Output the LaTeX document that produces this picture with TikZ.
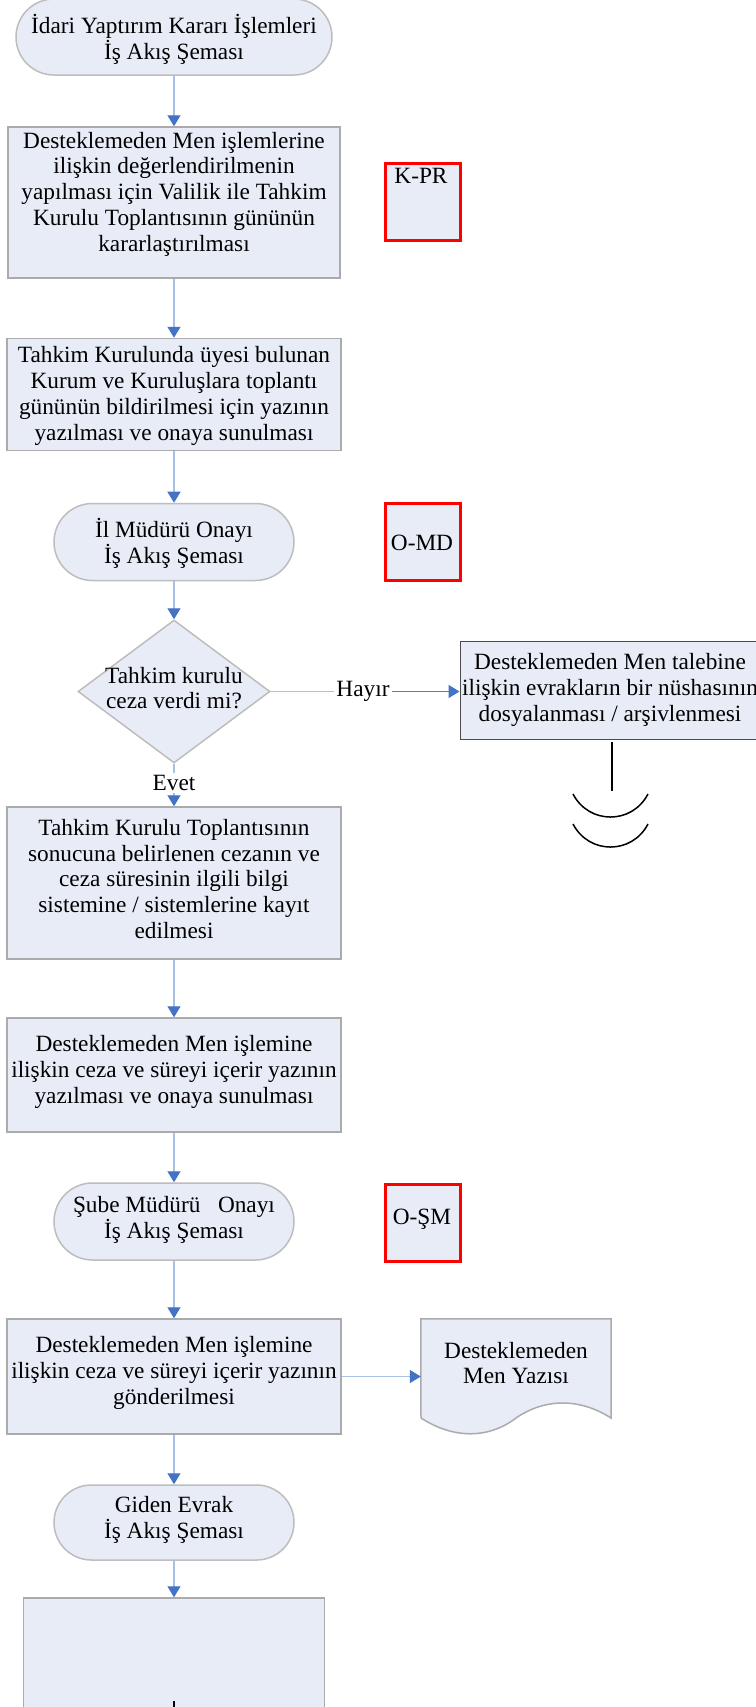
\documentclass[tikz,border=0pt]{standalone}
\usepackage{fontspec}
\setmainfont{Liberation Serif}
\usetikzlibrary{shapes.geometric,shapes.misc,arrows.meta}
\definecolor{boxfill}{HTML}{E8ECF7}
\definecolor{boxgray}{HTML}{ABABAB}
\definecolor{termgray}{HTML}{BDBDBD}
\definecolor{lineblue}{HTML}{A8BFE6}
\definecolor{arrowblue}{HTML}{4472C4}
\definecolor{darkblue}{HTML}{4F81BD}
\definecolor{codered}{HTML}{FF0000}
\tikzset{
  txt/.style={font=\fontsize{23.3bp}{25.8bp}\selectfont, align=center, inner sep=0pt, text=black},
  lbl/.style={font=\fontsize{23.3bp}{25.8bp}\selectfont, inner sep=2bp, text=black},
  procbox/.style={rectangle, draw=boxgray, line width=1.5bp, fill=boxfill, inner sep=0pt},
  term/.style={rounded rectangle, draw=termgray, line width=1.5bp, fill=boxfill, inner sep=0pt},
  codebox/.style={rectangle, draw=codered, line width=3bp, fill=boxfill, inner sep=0pt, minimum width=75bp, minimum height=77bp},
  decision/.style={diamond, draw=termgray, line width=1.5bp, fill=boxfill, inner sep=0pt},
  conn/.style={draw=lineblue, line width=1.3bp, -{Triangle[width=13bp,length=11bp,color=arrowblue]}},
  plainconn/.style={draw=lineblue, line width=1.3bp},
  blackline/.style={draw=black, line width=1.5bp},
}
\begin{document}
\begin{tikzpicture}[x=1bp,y=-1bp]
\path[use as bounding box] (0,0) rectangle (756,1707);
\clip (0,0) rectangle (756,1707);
\fill[white] (0,0) rectangle (756,1707);

% shapes
\node[term, minimum width=316bp, minimum height=76bp] (term1) at (174,37) {};
\node[procbox, minimum width=332bp, minimum height=151bp] (box1) at (174,202.5) {};
\node[codebox] (kpr) at (422.5,202) {};
\node[procbox, minimum width=334bp, minimum height=112bp] (box2) at (174,394.5) {};
\node[term, minimum width=240bp, minimum height=77bp] (term2) at (174,542) {};
\node[codebox] (omd) at (422.5,542) {};
\node[decision, minimum width=192bp, minimum height=143bp] (dia) at (174,691.5) {};
\node[rectangle, draw=black!70, line width=1bp, fill=boxfill, minimum width=300bp, minimum height=98bp] (rbox) at (610,690) {};
\node[procbox, minimum width=334bp, minimum height=152bp] (box3) at (174,883) {};
\node[procbox, minimum width=334bp, minimum height=114bp] (box4) at (174,1075) {};
\node[term, minimum width=240bp, minimum height=77bp] (term3) at (174,1221.5) {};
\node[codebox] (osm) at (422.5,1222.5) {};
\node[procbox, minimum width=334bp, minimum height=115bp] (box5) at (174,1376.5) {};
\node[rectangle, minimum width=190bp, minimum height=99bp, inner sep=0pt] (docbox) at (516,1368.5) {};
\path[fill=boxfill, draw=boxgray, line width=1.5bp]
  (docbox.north west) -- (docbox.north east) -- (611,1418)
  .. controls (580,1398) and (545,1398) .. (516,1418)
  .. controls (490,1438) and (455,1440) .. (421,1418) -- cycle;
\node[term, minimum width=240bp, minimum height=75bp] (term4) at (174,1522.5) {};
\node[procbox, minimum width=301bp, minimum height=200bp] (box6) at (174,1698) {};

% texts
\node[txt] (t1) at (174,39) {İdari Yaptırım Kararı İşlemleri\\İş Akış Şeması};
\node[txt] (t2) at (174,194) {Desteklemeden Men işlemlerine\\ilişkin değerlendirilmenin\\yapılması için Valilik ile Tahkim\\Kurulu Toplantısının gününün\\kararlaştırılması};
\node[txt] (tkpr) at (421,176) {K-PR};
\node[txt] (t3) at (174,396) {Tahkim Kurulunda üyesi bulunan\\Kurum ve Kuruluşlara toplantı\\gününün bildirilmesi için yazının\\yazılması ve onaya sunulması};
\node[txt] (t4) at (174,543) {İl Müdürü Onayı\\İş Akış Şeması};
\node[txt] (tomd) at (422,543) {O-MD};
\node[txt] (t5) at (174,688) {Tahkim kurulu\\ceza verdi mi?};
\node[txt] (t6) at (610,690) {Desteklemeden Men talebine\\ilişkin evrakların bir nüshasının\\dosyalanması / arşivlenmesi};
\node[txt] (t7) at (174,879) {Tahkim Kurulu Toplantısının\\sonucuna belirlenen cezanın ve\\ceza süresinin ilgili bilgi\\sistemine / sistemlerine kayıt\\edilmesi};
\node[txt] (t8) at (174,1072) {Desteklemeden Men işlemine\\ilişkin ceza ve süreyi içerir yazının\\yazılması ve onaya sunulması};
\node[txt] (t9) at (174,1220) {Şube Müdürü \ \ Onayı\\İş Akış Şeması};
\node[txt] (tosm) at (422,1219) {O-ŞM};
\node[txt] (t10) at (174,1373) {Desteklemeden Men işlemine\\ilişkin ceza ve süreyi içerir yazının\\gönderilmesi};
\node[txt] (t11) at (516,1363) {Desteklemeden\\Men Yazısı};
\node[txt] (t12) at (174,1520) {Giden Evrak\\İş Akış Şeması};

% labels on connectors
\node[lbl] (hayir) at (363,691.5) {Hayır};
\node[lbl] (evet) at (174,783) {Evet};

% connectors
\draw[conn] (term1) -- (box1);
\draw[conn] (box1) -- (box2);
\draw[conn] (box2) -- (term2);
\draw[conn] (term2) -- (dia);
\draw[plainconn] (dia.east) -- (dia.east -| hayir.west);
\draw[draw=darkblue, line width=1.3bp, -{Triangle[width=13bp,length=11bp,color=arrowblue]}] (hayir.east |- dia.east) -- (rbox.west |- dia.east);
\draw[plainconn] (dia.south) -- (evet.north);
\draw[conn] (evet.south) -- (box3.north);
\draw[conn] (box3) -- (box4);
\draw[conn] (box4) -- (term3);
\draw[conn] (term3) -- (box5);
\draw[conn] (box5.east) -- (box5.east -| docbox.west);
\draw[conn] (box5) -- (term4);
\draw[conn] (term4) -- (box6);

% off-page end mark under the right box
\coordinate (r1) at (612,742);
\coordinate (r2) at (612,791);
\draw[blackline] (r1) -- (r2);
\draw[blackline] (573,794) .. controls (589,824.7) and (632,824.7) .. (648,794);
\draw[blackline] (573,824) .. controls (589,854.7) and (632,854.7) .. (648,824);

% small black mark at bottom
\coordinate (m1) at (174,1701);
\coordinate (m2) at (174,1707);
\draw[blackline] (m1) -- (m2);
\end{tikzpicture}
\end{document}
